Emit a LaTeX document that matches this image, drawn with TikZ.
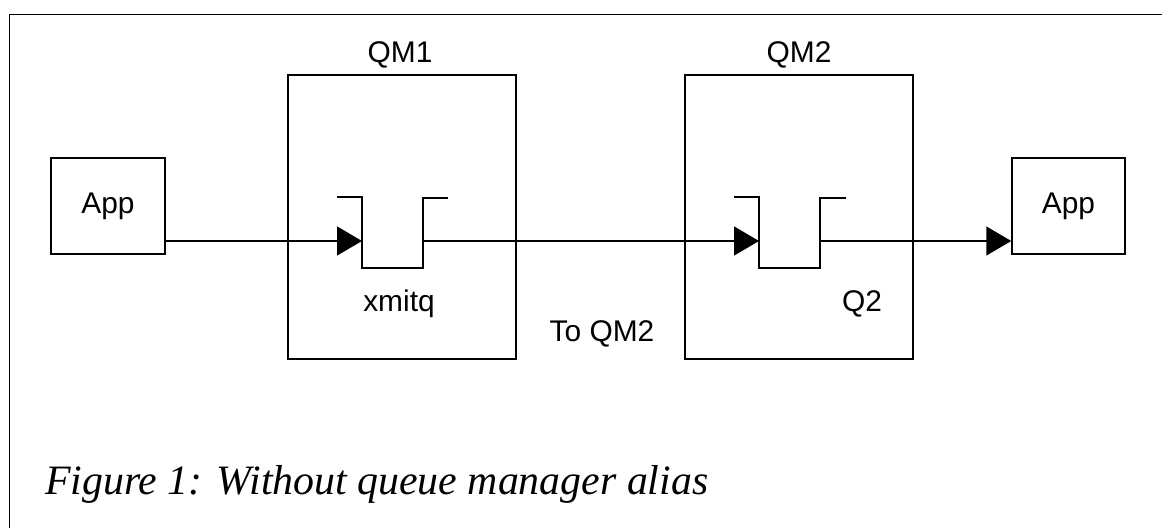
\documentclass[tikz,border=0pt]{standalone}
\usepackage{fontspec}
\setmainfont{Liberation Serif}
\setsansfont{Liberation Sans}
\usetikzlibrary{arrows.meta}
\begin{document}
\begin{tikzpicture}[x=1bp,y=-1bp,
  box/.style={draw, line width=1.5bp, inner sep=0pt},
  lbl/.style={font=\sffamily\fontsize{30}{36}\selectfont, inner sep=0pt},
  conn/.style={line width=1.5bp, -{Triangle[length=25bp,width=29bp]}},
  qline/.style={line width=1.5bp},
  frame/.style={line width=1bp}]
\useasboundingbox (0,0) rectangle (1162,528);
\draw[frame] (9,528) -- (9,15) -- (1162,15);
% apps
\node[box, lbl, minimum width=114bp, minimum height=96bp] (app1) at (108,206) {App};
\node[box, lbl, minimum width=113bp, minimum height=96bp] (app2) at (1068.5,206) {App};
% queue managers
\node[box, minimum width=228bp, minimum height=284bp] (qm1) at (402,217) {};
\node[box, minimum width=228bp, minimum height=284bp] (qm2) at (799,217) {};
\node[lbl, anchor=base] (qm1l) at (400,63) {QM1};
\node[lbl, anchor=base] (qm2l) at (799,63) {QM2};
% queues
\coordinate (q1in) at (362,241);
\coordinate (q1out) at (423,241);
\coordinate (q2in) at (759,241);
\coordinate (q2out) at (820,241);
\draw[qline] (337,197) -- (362,197) -- (362,268) -- (423,268) -- (423,198) -- (448,198);
\draw[qline] (734,197) -- (759,197) -- (759,268) -- (820,268) -- (820,198) -- (846,198);
\node[lbl, anchor=base] (xmitq) at (399,312) {xmitq};
\node[lbl, anchor=base] (q2l) at (862,312) {Q2};
\node[lbl, anchor=base] (toqm2) at (602,342) {To QM2};
% connectors
\draw[conn] (app1.east |- q1in) -- (q1in);
\draw[conn] (q1out) -- (q2in);
\draw[conn] (q2out) -- (app2.west |- q2out);
% caption
\node[anchor=base west, inner sep=0pt, font=\itshape\fontsize{42}{50}\selectfont] (cap) at (45,494) {Figure 1: Without queue manager alias};
\end{tikzpicture}
\end{document}
